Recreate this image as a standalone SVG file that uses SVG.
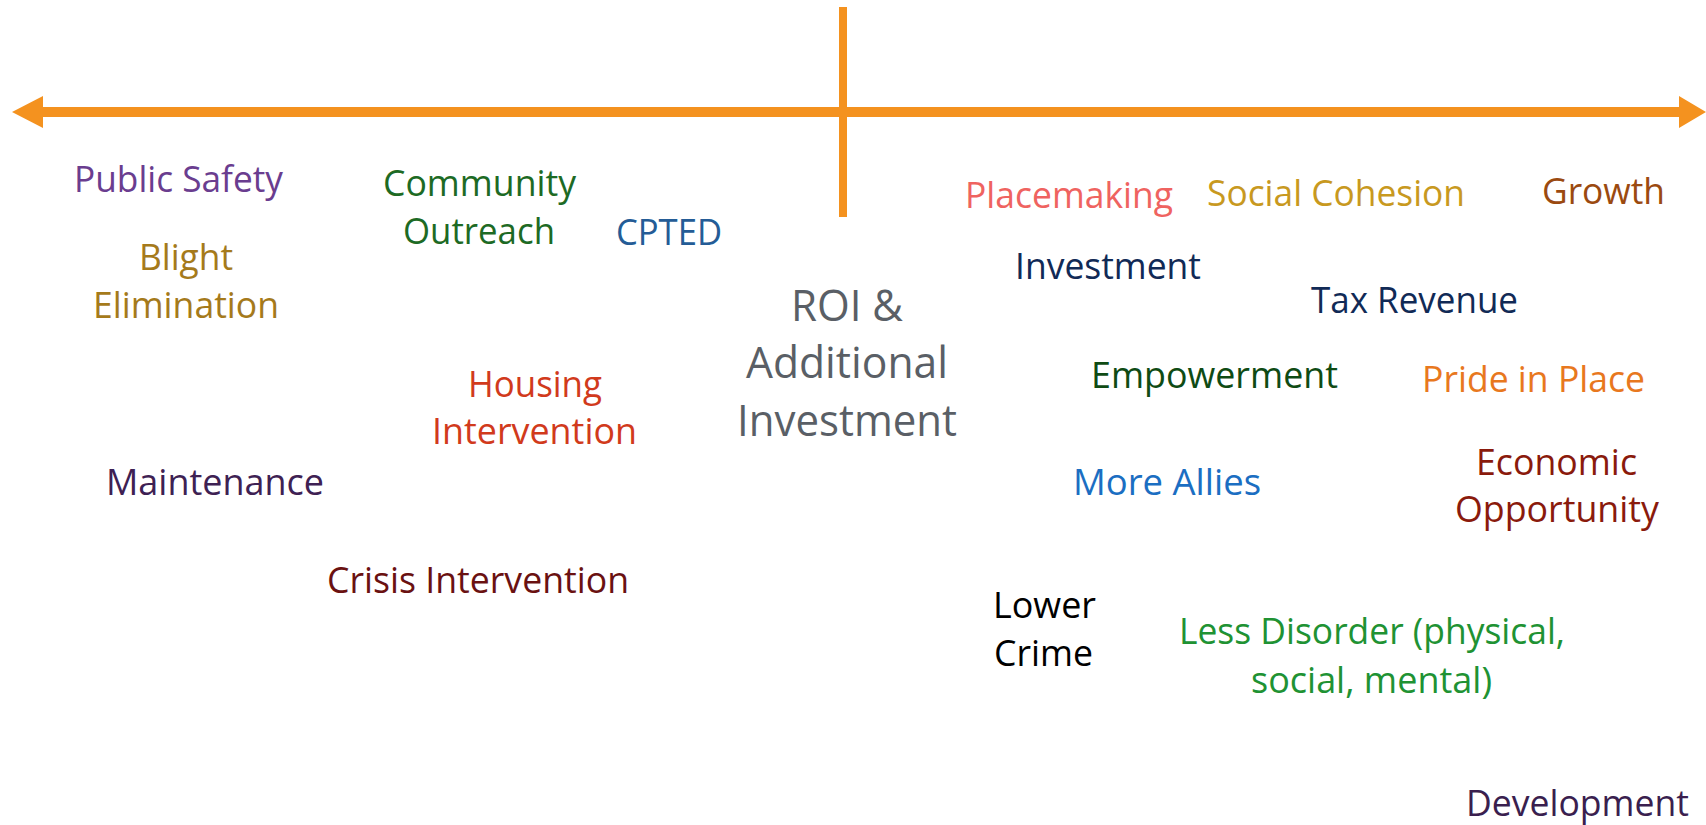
<svg xmlns="http://www.w3.org/2000/svg" width="1706" height="825" viewBox="0 0 1706 825">
<style>
text{font-family:"Open Sans","Noto Sans","Liberation Sans",sans-serif;font-size:37px}
.big{font-size:43px}
.ax{fill:#F4921F}
</style>
<rect width="1706" height="825" fill="#ffffff"/>
<g id="connectors">
<rect class="ax" x="40" y="107" width="1642" height="10"/>
<polygon class="ax" points="12,112 43,96 43,128"/>
<polygon class="ax" points="1706,112 1679,96 1679,128"/>
<rect class="ax" x="839" y="7" width="8" height="210"/>
</g>
<g id="public-safety"><text x="74" y="192" fill="#6A3D8F" textLength="209" lengthAdjust="spacingAndGlyphs">Public Safety</text></g>
<g id="blight-elimination" fill="#A57A1B">
<text x="139" y="270" textLength="94" lengthAdjust="spacingAndGlyphs">Blight</text>
<text x="93" y="318" textLength="186" lengthAdjust="spacingAndGlyphs">Elimination</text>
</g>
<g id="community-outreach" fill="#1D6A24">
<text x="383" y="196" textLength="193" lengthAdjust="spacingAndGlyphs">Community</text>
<text x="403" y="244" textLength="152" lengthAdjust="spacingAndGlyphs">Outreach</text>
</g>
<g id="cpted"><text x="616" y="245" fill="#245C96" textLength="106" lengthAdjust="spacingAndGlyphs">CPTED</text></g>
<g id="roi" fill="#5A5F66">
<text class="big" x="791" y="321" textLength="112" lengthAdjust="spacingAndGlyphs">ROI &amp;</text>
<text class="big" x="746" y="378" textLength="202" lengthAdjust="spacingAndGlyphs">Additional</text>
<text class="big" x="737" y="436" textLength="220" lengthAdjust="spacingAndGlyphs">Investment</text>
</g>
<g id="housing-intervention" fill="#D13A1C">
<text x="468" y="397" textLength="134" lengthAdjust="spacingAndGlyphs">Housing</text>
<text x="432" y="444" textLength="205" lengthAdjust="spacingAndGlyphs">Intervention</text>
</g>
<g id="maintenance"><text x="106" y="495" fill="#3E2153" textLength="218" lengthAdjust="spacingAndGlyphs">Maintenance</text></g>
<g id="crisis-intervention"><text x="327" y="593" fill="#6A1111" textLength="302" lengthAdjust="spacingAndGlyphs">Crisis Intervention</text></g>
<g id="placemaking"><text x="965" y="208" fill="#EF6360" textLength="208" lengthAdjust="spacingAndGlyphs">Placemaking</text></g>
<g id="social-cohesion"><text x="1207" y="206" fill="#C8991F" textLength="258" lengthAdjust="spacingAndGlyphs">Social Cohesion</text></g>
<g id="growth"><text x="1542" y="204" fill="#9B4A10" textLength="123" lengthAdjust="spacingAndGlyphs">Growth</text></g>
<g id="investment"><text x="1015" y="279" fill="#112A56" textLength="186" lengthAdjust="spacingAndGlyphs">Investment</text></g>
<g id="tax-revenue"><text x="1311" y="313" fill="#112A56" textLength="207" lengthAdjust="spacingAndGlyphs">Tax Revenue</text></g>
<g id="empowerment"><text x="1091" y="388" fill="#0F4B14" textLength="247" lengthAdjust="spacingAndGlyphs">Empowerment</text></g>
<g id="pride-in-place"><text x="1422" y="392" fill="#E8781E" textLength="223" lengthAdjust="spacingAndGlyphs">Pride in Place</text></g>
<g id="more-allies"><text x="1073" y="495" fill="#1B6EC2" textLength="188" lengthAdjust="spacingAndGlyphs">More Allies</text></g>
<g id="economic-opportunity" fill="#8A1A0C">
<text x="1476" y="475" textLength="161" lengthAdjust="spacingAndGlyphs">Economic</text>
<text x="1455" y="522" textLength="204" lengthAdjust="spacingAndGlyphs">Opportunity</text>
</g>
<g id="lower-crime" fill="#000000">
<text x="993" y="618" textLength="103" lengthAdjust="spacingAndGlyphs">Lower</text>
<text x="994" y="666" textLength="99" lengthAdjust="spacingAndGlyphs">Crime</text>
</g>
<g id="less-disorder" fill="#209233">
<text x="1179" y="644" textLength="386" lengthAdjust="spacingAndGlyphs">Less Disorder (physical,</text>
<text x="1251" y="693" textLength="241" lengthAdjust="spacingAndGlyphs">social, mental)</text>
</g>
<g id="development"><text x="1466" y="816" fill="#3A1F4F" textLength="223" lengthAdjust="spacingAndGlyphs">Development</text></g>
</svg>
